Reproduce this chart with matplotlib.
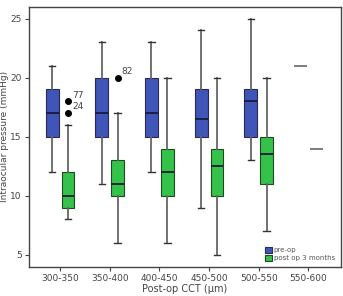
import matplotlib.pyplot as plt
import numpy as np

groups = ["300-350", "350-400", "400-450", "450-500", "500-550", "550-600"]

# pre-op: (whislo, q1, med, q3, whishi)
pre_stats = [(12, 15, 17, 19, 21),
             (11, 15, 17, 20, 23),
             (12, 15, 17, 20, 23),
             (9, 15, 16.5, 19, 24),
             (13, 15, 18, 19, 25)]
post_stats = [(8, 9, 10, 12, 16),
              (6, 10, 11, 13, 17),
              (6, 10, 12, 14, 20),
              (5, 10, 12.5, 14, 20),
              (7, 11, 13.5, 15, 20)]
post_fliers = [[18, 17], [20], [], [], []]
flier_labels = [["77", "24"], ["82"], [], [], []]

# last group has only one eye
single_pre = 21
single_post = 14

blue = "#3f55b8"
green = "#35c24a"
gray = "#666666"

fig = plt.figure(figsize=(3.43, 2.96), dpi=100)
ax = fig.add_axes([0.084, 0.099, 0.909, 0.878])

def to_dicts(stats, fliers=None):
    out = []
    for i, s in enumerate(stats):
        out.append(dict(whislo=s[0], q1=s[1], med=s[2], q3=s[3], whishi=s[4],
                        fliers=fliers[i] if fliers else []))
    return out

x = np.arange(len(groups))
off = 0.16
w = 0.26

common = dict(widths=w, capwidths=w * 0.5, patch_artist=True, showfliers=True,
              whiskerprops=dict(color=gray, lw=1.3),
              capprops=dict(color="#333333", lw=1.0),
              medianprops=dict(color="#1a1a3a", lw=1.3),
              flierprops=dict(marker="o", markerfacecolor="black",
                              markeredgecolor="black", markersize=4))

bp1 = ax.bxp(to_dicts(pre_stats), positions=x[:5] - off,
             boxprops=dict(facecolor=blue, edgecolor="#2a2a50", lw=0.8), **common)
bp2 = ax.bxp(to_dicts(post_stats, post_fliers), positions=x[:5] + off,
             boxprops=dict(facecolor=green, edgecolor="#1e4a22", lw=0.8), **common)

for i, labs in enumerate(flier_labels):
    for val, lab in zip(post_fliers[i], labs):
        ax.text(x[i] + off + 0.08, val + 0.15, lab, fontsize=6.5,
                color="#444444", va="bottom", ha="left")

ax.hlines(single_pre, x[5] - off - w / 2, x[5] - off + w / 2, color=gray, lw=1.2)
ax.hlines(single_post, x[5] + off - w / 2, x[5] + off + w / 2, color=gray, lw=1.2)

ax.set_xlim(-0.63, 5.65)
ax.set_ylim(4, 26)
ax.set_xticks(x)
ax.set_xticklabels(groups)
ax.set_yticks([5, 10, 15, 20, 25])
ax.tick_params(labelsize=6.5, colors="#444444", length=3, width=0.8, pad=2)
for s in ax.spines.values():
    s.set_color("#444444")
    s.set_linewidth(1.0)

ax.set_ylabel("Intraocular pressure (mmHg)", fontsize=6.5, color="#444444", labelpad=1)
ax.set_xlabel("Post-op CCT (\u00b5m)", fontsize=7, color="#444444", labelpad=1)

leg = ax.legend([bp1["boxes"][0], bp2["boxes"][0]], ["pre-op", "post op 3 months"],
                loc="lower right", fontsize=5, frameon=False, handlelength=0.9,
                handleheight=0.9, handletextpad=0.3, labelspacing=0.2,
                borderaxespad=0.4)
for t in leg.get_texts():
    t.set_color("#555555")

fig.savefig("out.png", dpi=100)
